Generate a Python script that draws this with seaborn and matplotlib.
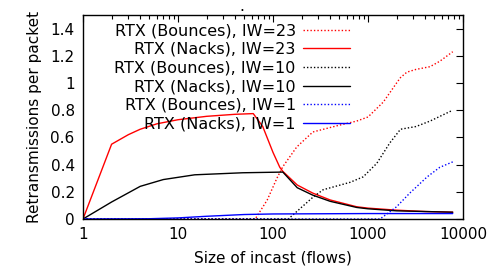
import pandas as pd
import seaborn as sns
import matplotlib.pyplot as plt
from matplotlib.ticker import FixedLocator, LogLocator, NullFormatter

# RTX (Bounces), IW=23
b23_x = [1, 2, 10, 30, 65, 87, 110, 127, 178, 263, 500, 760, 1000, 1450, 2000, 2200, 2570, 3200, 4500, 5700, 7800]
b23_y = [0, 0, 0, 0, 0, 0.14, 0.30, 0.385, 0.53, 0.64, 0.69, 0.72, 0.75, 0.86, 1.0, 1.04, 1.08, 1.10, 1.12, 1.16, 1.23]
# RTX (Nacks), IW=23
n23_x = [1, 2, 3, 4, 6, 10, 20, 40, 62, 78, 100, 118, 127, 180, 263, 400, 760, 1000, 2000, 4000, 7800]
n23_y = [0, 0.55, 0.62, 0.66, 0.70, 0.73, 0.755, 0.77, 0.775, 0.68, 0.49, 0.38, 0.35, 0.25, 0.19, 0.14, 0.09, 0.08, 0.065, 0.055, 0.05]
# RTX (Bounces), IW=10
b10_x = [1, 10, 100, 145, 263, 337, 650, 890, 1240, 1700, 2200, 3200, 4500, 7800]
b10_y = [0, 0, 0, 0, 0.16, 0.215, 0.27, 0.31, 0.41, 0.56, 0.66, 0.68, 0.72, 0.80]
# RTX (Nacks), IW=10
n10_x = [1, 2, 4, 7, 15, 48, 127, 180, 263, 400, 760, 1000, 2000, 7800]
n10_y = [0, 0.125, 0.24, 0.29, 0.325, 0.34, 0.345, 0.23, 0.175, 0.13, 0.085, 0.075, 0.06, 0.05]
# RTX (Bounces), IW=1
b1_x = [1, 10, 100, 1000, 1340, 2000, 2750, 4200, 5700, 7800]
b1_y = [0, 0, 0, 0, 0, 0.09, 0.19, 0.31, 0.38, 0.42]
# RTX (Nacks), IW=1
n1_x = [1, 5, 10, 20, 50, 100, 1000, 7800]
n1_y = [0, 0.002, 0.008, 0.02, 0.033, 0.037, 0.04, 0.04]

series = [
    ("RTX (Bounces), IW=23", b23_x, b23_y, "#ff0000", True),
    ("RTX (Nacks), IW=23", n23_x, n23_y, "#ff0000", False),
    ("RTX (Bounces), IW=10", b10_x, b10_y, "#000000", True),
    ("RTX (Nacks), IW=10", n10_x, n10_y, "#000000", False),
    ("RTX (Bounces), IW=1", b1_x, b1_y, "#0000ff", True),
    ("RTX (Nacks), IW=1", n1_x, n1_y, "#0000ff", False),
]

sns.set_style("white")
plt.rcParams['font.family'] = ['DejaVu Sans']
plt.rcParams['text.color'] = 'black'
plt.rcParams['axes.labelcolor'] = 'black'
plt.rcParams['xtick.color'] = 'black'
plt.rcParams['ytick.color'] = 'black'

fig = plt.figure(figsize=(4.92, 2.73), dpi=100)
ax = fig.add_axes([0.1687, 0.1978, 0.7723, 0.7472])

for label, xs, ys, col, dotted in series:
    df = pd.DataFrame({"x": xs, "y": ys})
    ls = (0, (1, 1.5)) if dotted else "-"
    sns.lineplot(data=df, x="x", y="y", ax=ax, color=col, linestyle=ls,
                 linewidth=1.0, label=label, estimator=None, sort=False)

ax.set_xscale("log")
ax.set_xlim(1, 10000)
ax.set_ylim(0, 1.5)
ax.yaxis.set_major_locator(FixedLocator([0, 0.2, 0.4, 0.6, 0.8, 1.0, 1.2, 1.4]))
ax.set_yticklabels(["0", "0.2", "0.4", "0.6", "0.8", "1", "1.2", "1.4"])
ax.xaxis.set_major_locator(FixedLocator([1, 10, 100, 1000, 10000]))
ax.set_xticklabels(["1", "10", "100", "1000", "10000"])
ax.xaxis.set_minor_locator(LogLocator(base=10, subs=range(2, 10)))
ax.xaxis.set_minor_formatter(NullFormatter())

ax.tick_params(axis="both", which="major", direction="in", length=5, width=0.8,
               top=True, right=True, labelsize=11, pad=6)
ax.tick_params(axis="both", which="minor", direction="in", length=3, width=0.8,
               top=True, right=True)
for s in ax.spines.values():
    s.set_color("black")
    s.set_linewidth(1.0)

ax.set_xlabel("Size of incast (flows)", fontsize=11, labelpad=6)
ax.set_ylabel("Retransmissions per packet", fontsize=11, labelpad=6)
# the little dot gnuplot leaves above the frame
fig.text(242 / 492, 1 - 11 / 273, ".", fontsize=11, ha="center", va="baseline")

leg = ax.legend(loc="upper right", markerfirst=False, frameon=False, fontsize=11.5,
                handlelength=2.95, handletextpad=0.45, labelspacing=0.23,
                borderpad=0, borderaxespad=0, bbox_to_anchor=(0.703, 0.96))
for col in leg._legend_handle_box.get_children():
    col.align = "right"

fig.savefig("out.png", dpi=100)
